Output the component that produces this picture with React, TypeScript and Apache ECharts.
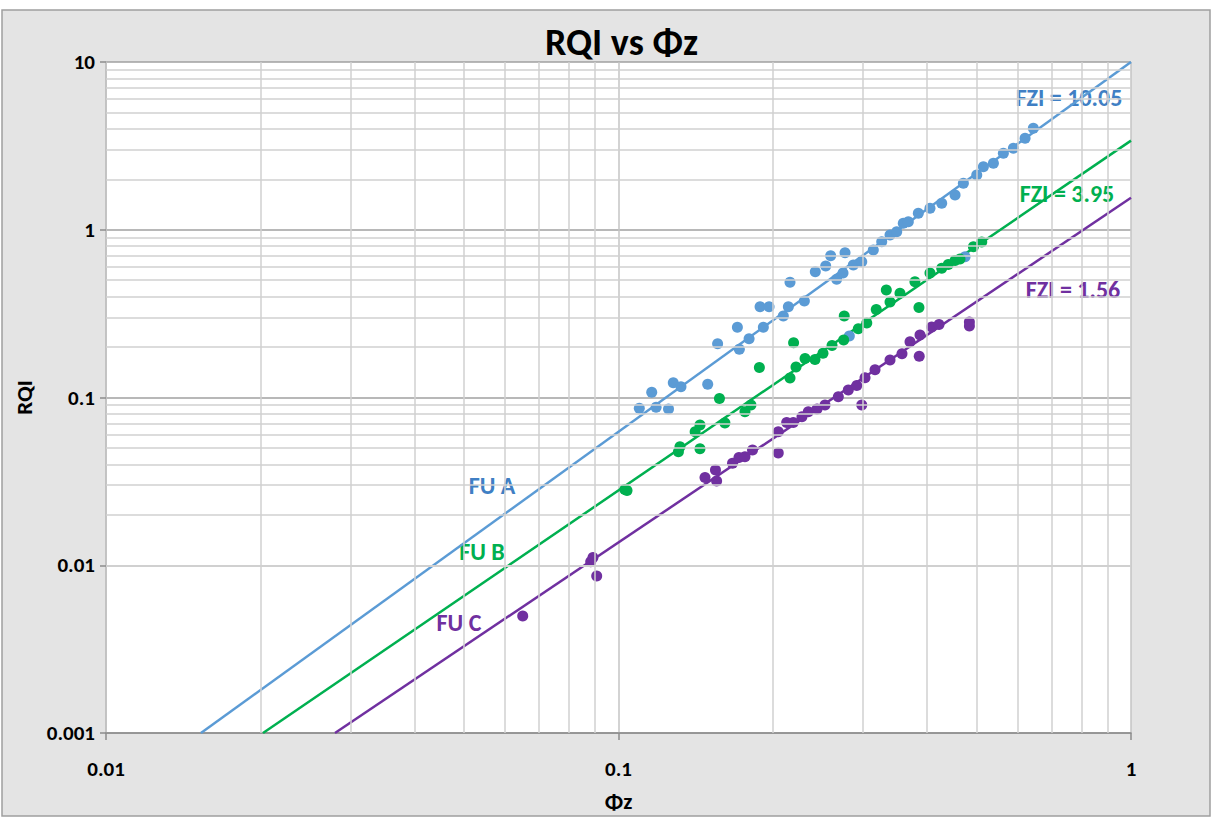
import React, { useEffect, useRef } from "react";
import * as echarts from "echarts";

// ---- Data ----
// Flow unit A (FZI = 10.05) : [Φz, RQI]
const fuA: number[][] = [
  [0.1098, 0.0862], [0.1161, 0.1074], [0.1184, 0.0874], [0.1252, 0.0854], [0.1279, 0.1225],
  [0.1324, 0.116], [0.1493, 0.1199], [0.1561, 0.2093], [0.1706, 0.262], [0.1721, 0.1938],
  [0.1798, 0.2241], [0.1889, 0.3477], [0.1967, 0.3477], [0.1917, 0.262], [0.2097, 0.306],
  [0.2145, 0.3477], [0.2161, 0.486], [0.2305, 0.376], [0.2421, 0.562], [0.2537, 0.608],
  [0.2594, 0.7], [0.2665, 0.5065], [0.2767, 0.73], [0.2742, 0.552], [0.2872, 0.6165],
  [0.2983, 0.645], [0.3142, 0.757], [0.3263, 0.849], [0.3387, 0.93], [0.349, 0.974],
  [0.3595, 1.092], [0.3677, 1.117], [0.3846, 1.253], [0.4053, 1.343], [0.4272, 1.438],
  [0.4536, 1.612], [0.4709, 1.892], [0.5001, 2.12], [0.5152, 2.376], [0.5389, 2.489],
  [0.5636, 2.856], [0.5895, 3.059], [0.6213, 3.509], [0.6448, 4.025], [0.2821, 0.2326],
  [0.4745, 0.691],
];
// Flow unit B (FZI = 3.95)
const fuB: number[][] = [
  [0.1039, 0.0279], [0.1029, 0.0283], [0.1309, 0.04752], [0.1318, 0.0509], [0.1411, 0.06254],
  [0.1442, 0.06857], [0.1442, 0.04952], [0.1574, 0.0986], [0.1613, 0.0705], [0.1765, 0.0823],
  [0.1813, 0.0902], [0.1883, 0.151], [0.2161, 0.1307], [0.2196, 0.2121], [0.222, 0.152],
  [0.2312, 0.1708], [0.2418, 0.1684], [0.2506, 0.1834], [0.261, 0.2042], [0.275, 0.2202],
  [0.2757, 0.306], [0.2937, 0.2571], [0.3051, 0.278], [0.3184, 0.3346], [0.3331, 0.4374],
  [0.3387, 0.3709], [0.3542, 0.4181], [0.3788, 0.49], [0.3857, 0.344], [0.4053, 0.5524],
  [0.4272, 0.589], [0.44, 0.6206], [0.4536, 0.6557], [0.4638, 0.6693], [0.4926, 0.7925],
  [0.5114, 0.8453],
];
// Flow unit C (FZI = 1.56)
const fuC: number[][] = [
  [0.06503, 0.004983], [0.08826, 0.0105], [0.08916, 0.01112], [0.09067, 0.008628],
  [0.1475, 0.03335], [0.1546, 0.03697], [0.1554, 0.03178], [0.1669, 0.04053], [0.1718, 0.04388],
  [0.1765, 0.04437], [0.1826, 0.04864], [0.205, 0.04669], [0.205, 0.06254], [0.2129, 0.07096],
  [0.2193, 0.07096], [0.228, 0.07685], [0.2346, 0.08232], [0.244, 0.08541], [0.2529, 0.09021],
  [0.2685, 0.1011], [0.2808, 0.1108], [0.2917, 0.1179], [0.2983, 0.0902], [0.3027, 0.1312],
  [0.3166, 0.1465], [0.3387, 0.1673], [0.3574, 0.1824], [0.3705, 0.2151], [0.3862, 0.176],
  [0.3875, 0.2358], [0.4084, 0.2632], [0.4221, 0.2724], [0.4838, 0.2819], [0.4838, 0.2668],
];
// Trend lines (end points)
const lineA: number[][] = [[0.01532, 0.001], [1, 10]];
const lineB: number[][] = [[0.02025, 0.001], [1, 3.4]];
const lineC: number[][] = [[0.02798, 0.001], [1, 1.55]];

const xMinor = [0.02, 0.03, 0.04, 0.05, 0.06, 0.07, 0.08, 0.09, 0.2, 0.3, 0.4, 0.5, 0.6, 0.7, 0.8, 0.9];
const yDecades = [0.001, 0.01, 0.1, 1];
const yMultipliers = [2, 3, 4, 5, 6, 7, 8, 9];
const yMinor = yDecades.flatMap((d) => yMultipliers.map((m) => +(d * m).toPrecision(3)));

const FONT = "Carlito, Lato, 'Open Sans', sans-serif";
const BLUE = "#5b9bd5";
const BLUE_TXT = "#3f7fc4";
const GREEN = "#00b050";
const PURPLE = "#7030a0";

export default function App() {
  const ref = useRef<HTMLDivElement>(null);
  useEffect(() => {
    document.body.style.margin = "0";
    if (!ref.current) return;
    const chart = echarts.init(ref.current, undefined, { renderer: "svg" });
    const fmt = (v: number) => String(parseFloat(Number(v).toPrecision(6)));
    const minorLine = { color: "#d0d0d0", width: 1.5 };
    const lbl = (text: string, x: number, y: number, fill: string) => ({
      type: "text",
      x,
      y,
      style: { text, fill, font: `bold 24px ${FONT}`, align: "center", verticalAlign: "middle" },
    });
    chart.setOption({
      animation: false,
      backgroundColor: "#ffffff",
      title: {
        text: "RQI vs Φz",
        left: 540,
        top: 18,
        textStyle: { fontFamily: FONT, fontWeight: "bold", fontSize: 38, color: "#000" },
      },
      grid: { left: 106, top: 62, width: 1025, height: 671, show: true, backgroundColor: "#ffffff", borderWidth: 0 },
      xAxis: {
        type: "log",
        logBase: 10,
        min: 0.01,
        max: 1,
        name: "Φz",
        nameLocation: "middle",
        nameGap: 56,
        nameTextStyle: { fontFamily: FONT, fontWeight: "bold", fontSize: 23, color: "#000" },
        axisLine: { show: true, lineStyle: { color: "#8c8c8c", width: 1.5 } },
        axisTick: { show: true, length: 7, lineStyle: { color: "#8c8c8c", width: 1.5 } },
        axisLabel: { margin: 25, formatter: fmt, fontFamily: FONT, fontWeight: "bold", fontSize: 21, color: "#000" },
        splitLine: { show: true, lineStyle: { color: "#c4c4c4", width: 1.5 } },
      },
      yAxis: {
        type: "log",
        logBase: 10,
        min: 0.001,
        max: 10,
        name: "RQI",
        nameLocation: "middle",
        nameGap: 65,
        nameRotate: 90,
        nameTextStyle: { fontFamily: FONT, fontWeight: "bold", fontSize: 23, color: "#000" },
        axisLine: { show: true, lineStyle: { color: "#bfbfbf", width: 1.5 } },
        axisTick: { show: true, length: 6, lineStyle: { color: "#8c8c8c", width: 1.5 } },
        axisLabel: { margin: 11, formatter: fmt, fontFamily: FONT, fontWeight: "bold", fontSize: 21, color: "#000" },
        splitLine: { show: true, lineStyle: { color: "#a0a0a0", width: 1.5 } },
      },
      graphic: [
        {
          type: "rect",
          z: -10,
          shape: { x: 2, y: 10, width: 1208, height: 806 },
          style: { fill: "#e4e4e4", stroke: "#9f9f9f", lineWidth: 1.5 },
        },
        lbl("FZI = 10.05", 1069, 97, BLUE_TXT),
        lbl("FZI = 3.95", 1067, 193, GREEN),
        lbl("FZI = 1.56", 1073, 289, PURPLE),
        lbl("FU A", 492, 485, BLUE_TXT),
        lbl("FU B", 482, 551, GREEN),
        lbl("FU C", 459, 622, PURPLE),
      ],
      series: [
        {
          type: "line",
          data: [],
          z: 1,
          silent: true,
          markLine: {
            silent: true,
            symbol: "none",
            label: { show: false },
            lineStyle: { ...minorLine, type: "solid" },
            data: [
              ...xMinor.map((v) => ({ xAxis: v })),
              ...yMinor.map((v) => ({ yAxis: v })),
            ],
          },
        },
        { type: "line", data: lineA, showSymbol: false, symbol: "none", z: 3, lineStyle: { color: BLUE, width: 2.5 } },
        { type: "line", data: lineB, showSymbol: false, symbol: "none", z: 3, lineStyle: { color: GREEN, width: 2.5 } },
        { type: "line", data: lineC, showSymbol: false, symbol: "none", z: 3, lineStyle: { color: PURPLE, width: 2.5 } },
        { type: "scatter", data: fuA, symbolSize: 11, z: 4, itemStyle: { color: BLUE, opacity: 1 } },
        { type: "scatter", data: fuB, symbolSize: 11, z: 4, itemStyle: { color: GREEN, opacity: 1 } },
        { type: "scatter", data: fuC, symbolSize: 11, z: 4, itemStyle: { color: PURPLE, opacity: 1 } },
      ],
    });
    return () => chart.dispose();
  }, []);
  return <div ref={ref} style={{ width: 1213, height: 818 }} />;
}
